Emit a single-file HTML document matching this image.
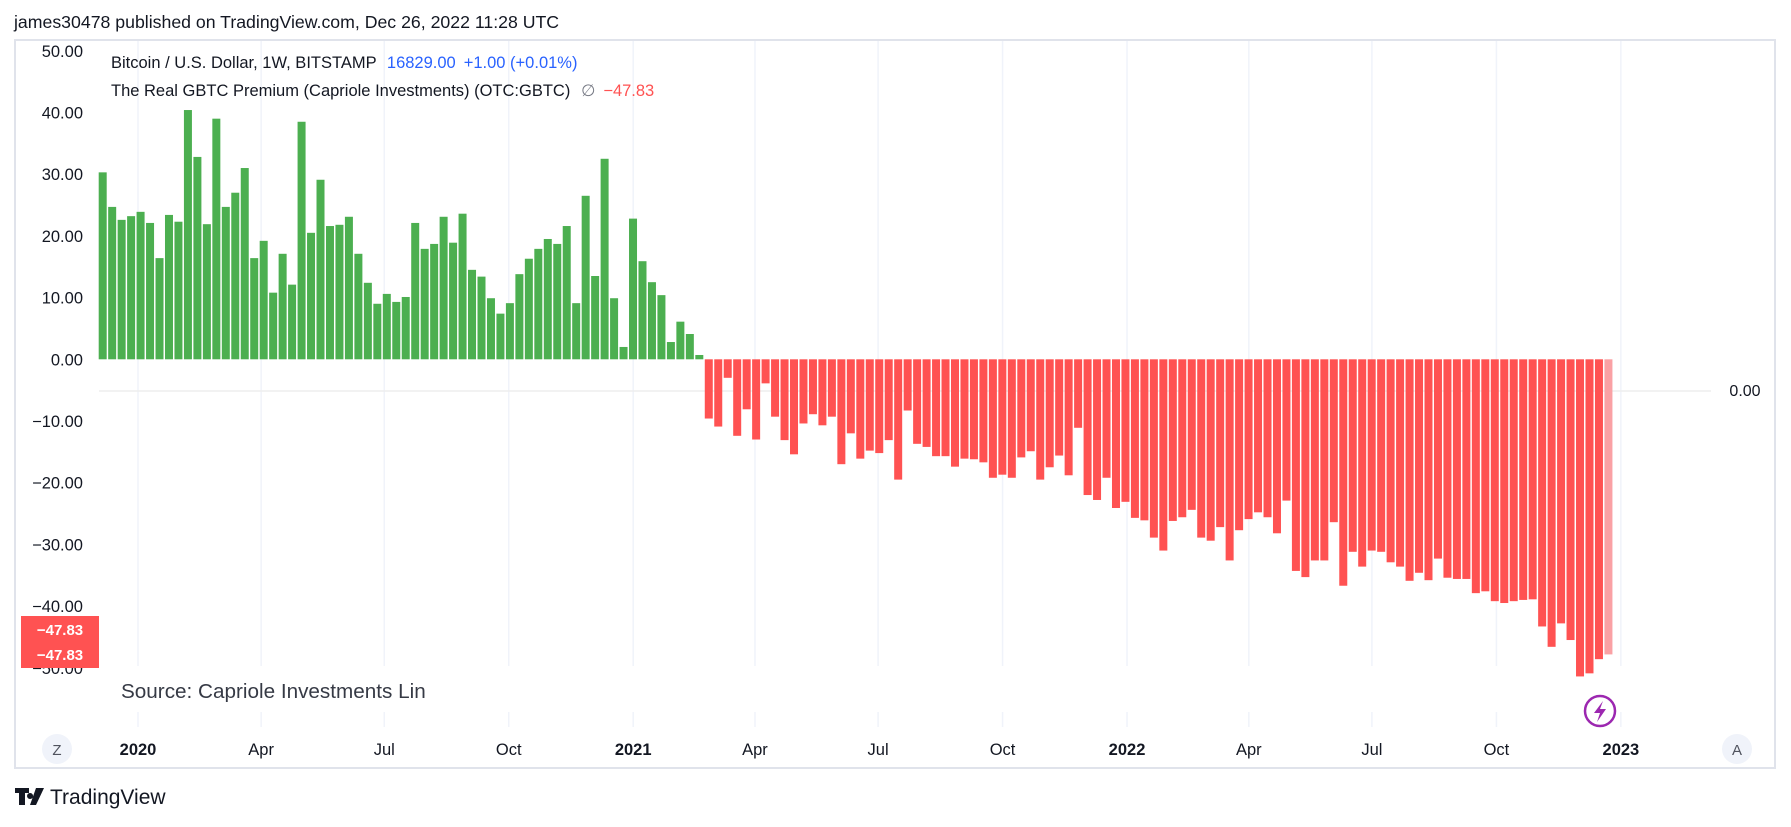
<!DOCTYPE html>
<html><head><meta charset="utf-8">
<style>
body{margin:0;background:#fff;width:1791px;height:822px;overflow:hidden;font-family:"Liberation Sans","DejaVu Sans",sans-serif;}
</style></head>
<body>
<svg id="chart" width="1791" height="822" xmlns="http://www.w3.org/2000/svg" font-family="Liberation Sans, DejaVu Sans, sans-serif">
<text x="14" y="28" font-size="17.7" fill="#131722">james30478 published on TradingView.com, Dec 26, 2022 11:28 UTC</text>
<rect x="15" y="40" width="1760" height="728" fill="none" stroke="#e0e3eb" stroke-width="2"/>
<g id="grid"></g>
<line x1="99" y1="391" x2="1711" y2="391" stroke="#eeeeee" stroke-width="1.5"/>
<g id="bars"></g>
<g id="yaxis"></g>
<g id="xaxis"></g>
<text x="111" y="68" font-size="16.5" fill="#131722">Bitcoin / U.S. Dollar, 1W, BITSTAMP <tspan fill="#2962ff" dx="6">16829.00</tspan><tspan fill="#2962ff" dx="8">+1.00 (+0.01%)</tspan></text>
<text x="111" y="96" font-size="16.5" fill="#131722">The Real GBTC Premium (Capriole Investments) (OTC:GBTC) <tspan fill="#787b86" dx="6">∅</tspan><tspan fill="#ff5252" dx="8">−47.83</tspan></text>
<text x="1745" y="396" font-size="16" fill="#131722" text-anchor="middle">0.00</text>
<rect x="21" y="616" width="78" height="52" fill="#ff5252"/>
<text x="60" y="635" font-size="15" font-weight="bold" fill="#fff" text-anchor="middle">−47.83</text>
<text x="60" y="660" font-size="15" font-weight="bold" fill="#fff" text-anchor="middle">−47.83</text>
<text x="121" y="698" font-size="20.7" fill="#363a45">Source: Capriole Investments Lin</text>
<g>
<circle cx="1600" cy="711" r="15" fill="#fff" stroke="#9c27b0" stroke-width="2.5"/>
<path d="M1603 701 L1594 713 L1600 713 L1597 722 L1606 709 L1600 709 Z" fill="#9c27b0"/>
</g>
<g><circle cx="57" cy="749" r="15" fill="#f0f3fa"/><text x="57" y="755" font-size="15" fill="#50535e" text-anchor="middle">Z</text></g>
<g><circle cx="1737" cy="749" r="15" fill="#f0f3fa"/><text x="1737" y="755" font-size="15" fill="#50535e" text-anchor="middle">A</text></g>
<g>
<path d="M15 788 h14 v5 h-4 v12 h-6 v-12 h-4z M30 793 a3 3 0 1 0 0.1 0z M36 788 h8 l-8 17 h-6z" fill="#131722"/>
<text x="50" y="804" font-size="21" fill="#131722">TradingView</text>
</g>
</svg>
<script>
const values = [30.3,24.7,22.6,23.2,23.9,22.1,16.4,23.4,22.3,40.4,32.8,21.9,39.0,24.7,27.0,31.0,16.4,19.2,10.8,17.1,12.1,38.5,20.5,29.1,21.6,21.8,23.1,17.1,12.4,9.0,10.6,9.3,10.1,22.1,17.9,18.7,23.1,18.9,23.6,14.5,13.4,9.9,7.4,9.1,13.8,16.3,17.9,19.5,18.7,21.6,9.1,26.5,13.5,32.5,9.9,2.0,22.8,15.9,12.5,10.4,2.8,6.1,4.1,0.7,
-9.6,-10.9,-3.0,-12.4,-8.1,-13.0,-3.9,-9.3,-13.1,-15.4,-10.4,-8.9,-10.7,-9.3,-17.0,-12.0,-16.1,-14.8,-15.2,-13.1,
-19.5,-8.3,-13.7,-14.2,-15.7,-15.7,-17.4,-16.1,-16.2,-16.7,-19.2,-18.7,-19.2,-15.9,-14.9,-19.5,-17.5,-15.6,-18.8,-11.1,-22.0,-22.8,-19.2,-24.1,-23.1,-25.7,
-26.1,-28.9,-31.0,-26.2,-25.6,-24.4,-28.9,-29.4,-27.2,-32.6,-27.7,-25.9,-24.8,-25.6,-28.2,-22.9,-34.3,-35.3,-32.6,-32.6,-26.4,-36.7,-31.2,-33.6,-31.0,-31.2,
-32.9,-33.6,-35.9,-34.6,-35.8,-32.3,-35.4,-35.6,-35.6,-37.9,-37.6,-39.2,-39.5,-39.2,-39.0,-38.9,-43.3,-46.6,-42.8,-45.5,-51.4,-50.9,-48.6,-47.83];
const yTicks = [50,40,30,20,10,0,-10,-20,-30,-40,-50];
const xTickLabels = ["2020","Apr","Jul","Oct","2021","Apr","Jul","Oct","2022","Apr","Jul","Oct","2023"];
const xTickDays = [0,91,182,274,366,456,547,639,731,821,912,1004,1096];
const xTickBold = [true,false,false,false,true,false,false,false,true,false,false,false,true];

const NS="http://www.w3.org/2000/svg";
function y(v){return 359.3 - v*6.17;}
function xBar(i){return 98.7 + i*9.47;}
function xDay(d){return 138 + d*1.353;}
function mk(tag,attrs,parent){const e=document.createElementNS(NS,tag);for(const k in attrs)e.setAttribute(k,attrs[k]);parent.appendChild(e);return e;}

const grid=document.getElementById('grid');
xTickDays.forEach((d,i)=>{
  const l=mk('line',{x1:xDay(d),x2:xDay(d),y1:41,y2:666,stroke:'#f0f3fa','stroke-width':1.5},grid);
  
  
  const l2=mk('line',{x1:xDay(d),x2:xDay(d),y1:712,y2:727,stroke:'#f0f3fa','stroke-width':1.5},grid);
  
  
});
const bars=document.getElementById('bars');
values.forEach((v,i)=>{
  const last=i===values.length-1;
  const col=v>=0?'#4caf50':(last?'#faa1a4':'#ff5252');
  const r=mk('rect',{x:xBar(i),width:8,y:Math.min(y(v),y(0)),height:Math.abs(y(v)-y(0)),fill:col},bars);
  
  
});
const ya=document.getElementById('yaxis');
yTicks.forEach(t=>{
  const tx=mk('text',{x:83,y:y(t)+6,'font-size':16.5,fill:'#131722','text-anchor':'end'},ya);
  tx.textContent=(t<0?'−':'')+Math.abs(t).toFixed(2);
  
  
});
const xa=document.getElementById('xaxis');
xTickLabels.forEach((lab,i)=>{
  const tx=mk('text',{x:xDay(xTickDays[i]),y:755,'font-size':16.5,fill:'#131722','text-anchor':'middle','font-weight':xTickBold[i]?'bold':'normal'},xa);
  tx.textContent=lab;
  
  
});
</script>
</body></html>
